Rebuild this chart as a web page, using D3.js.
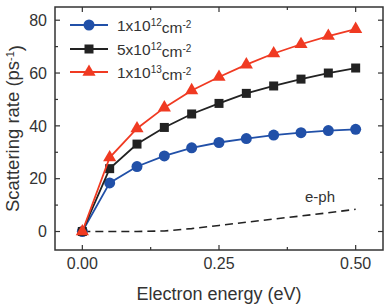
<!DOCTYPE html>
<html>
<head>
<meta charset="utf-8">
<script src="https://cdn.jsdelivr.net/npm/d3@7"></script>
<style>
  body { margin: 0; background: #fff; }
  text { font-family: Arial, "Liberation Sans", sans-serif; fill: #333; }
</style>
</head>
<body>
<svg class="chart" width="390" height="304"></svg>
<script>
// data
var energy = [0, 0.05, 0.10, 0.15, 0.20, 0.25, 0.30, 0.35, 0.40, 0.45, 0.50];
var rate1e12 = [0, 18.4, 24.6, 28.6, 31.7, 33.7, 35.2, 36.5, 37.4, 38.2, 38.7];
var rate5e12 = [0, 23.8, 33.1, 39.4, 44.5, 48.5, 52.3, 55.1, 57.7, 60.0, 61.9];
var rate1e13 = [0, 28.0, 39.0, 46.9, 53.4, 58.5, 63.2, 67.4, 70.9, 74.0, 76.6];
var ephEnergy = [0, 0.05, 0.10, 0.15, 0.20, 0.25, 0.30, 0.35, 0.40, 0.45, 0.50];
var ephRate = [0, 0, 0, 0.2, 1.1, 2.3, 3.5, 4.7, 5.9, 7.1, 8.4];
var xTicks = [0, 0.25, 0.5];
var yTicks = [0, 20, 40, 60, 80];

var svg = d3.select(".chart");

// plot box (window.top is reserved, so use p* names)
var pLeft = 55, pRight = 383, pTop = 7, pBottom = 250;

var x = d3.scaleLinear().domain([-0.05, 0.55]).range([pLeft, pRight]);
var y = d3.scaleLinear().domain([-7, 85]).range([pBottom, pTop]);

var series = [
  {name: "1x10", exp: "12", values: rate1e12, color: "#2150a8", shape: "circle"},
  {name: "5x10", exp: "12", values: rate5e12, color: "#222222", shape: "square"},
  {name: "1x10", exp: "13", values: rate1e13, color: "#f03a22", shape: "triangle"}
];

// frame
svg.append("rect")
  .attr("x", pLeft).attr("y", pTop)
  .attr("width", pRight - pLeft).attr("height", pBottom - pTop)
  .attr("fill", "none").attr("stroke", "#333").attr("stroke-width", 1.5);

// ticks, pointing inward on all four sides
var xMinor = [0.125, 0.375];
var yMinor = [10, 30, 50, 70];
function tickLines(vals, len) {
  vals.forEach(function(v) {
    svg.append("line").attr("x1", x(v)).attr("x2", x(v)).attr("y1", pBottom).attr("y2", pBottom - len)
      .attr("stroke", "#333").attr("stroke-width", 1.2);
    svg.append("line").attr("x1", x(v)).attr("x2", x(v)).attr("y1", pTop).attr("y2", pTop + len)
      .attr("stroke", "#333").attr("stroke-width", 1.2);
  });
}
function yTickLines(vals, len) {
  vals.forEach(function(v) {
    svg.append("line").attr("y1", y(v)).attr("y2", y(v)).attr("x1", pLeft).attr("x2", pLeft + len)
      .attr("stroke", "#333").attr("stroke-width", 1.2);
    svg.append("line").attr("y1", y(v)).attr("y2", y(v)).attr("x1", pRight).attr("x2", pRight - len)
      .attr("stroke", "#333").attr("stroke-width", 1.2);
  });
}
tickLines(xTicks, 5);
tickLines(xMinor, 3);
yTickLines(yTicks, 5);
yTickLines(yMinor, 3);

svg.selectAll(".xlab").data(xTicks).enter().append("text")
  .attr("x", function(d) { return x(d); })
  .attr("y", 269)
  .attr("text-anchor", "middle")
  .style("font-size", "16px")
  .text(function(d) { return d3.format(".2f")(d); });

svg.selectAll(".ylab").data(yTicks).enter().append("text")
  .attr("x", 47)
  .attr("y", function(d) { return y(d); })
  .attr("dy", "0.36em")
  .attr("text-anchor", "end")
  .style("font-size", "16px")
  .text(function(d) { return d; });

// axis titles
svg.append("text")
  .attr("x", (pLeft + pRight) / 2).attr("y", 300)
  .attr("text-anchor", "middle")
  .style("font-size", "18px")
  .text("Electron energy (eV)");

var yt = svg.append("text")
  .attr("transform", "translate(19," + ((pTop + pBottom) / 2) + ") rotate(-90)")
  .attr("text-anchor", "middle")
  .style("font-size", "18.5px");
yt.append("tspan").text("Scattering rate (ps");
yt.append("tspan").attr("dy", "-0.45em").style("font-size", "11px").text("-1");
yt.append("tspan").attr("dy", "0.45em").text(")");

// e-ph dashed curve
var line = d3.line()
  .x(function(d) { return x(d[0]); })
  .y(function(d) { return y(d[1]); });

svg.append("path")
  .attr("d", line(d3.zip(ephEnergy, ephRate)))
  .attr("fill", "none").attr("stroke", "#222").attr("stroke-width", 1.6)
  .attr("stroke-dasharray", "8,5");

svg.append("text")
  .attr("x", 320).attr("y", 202)
  .attr("text-anchor", "middle")
  .style("font-size", "15px")
  .text("e-ph");

function marker(g, shape, cx, cy, color) {
  if (shape == "circle") {
    g.append("circle").attr("cx", cx).attr("cy", cy).attr("r", 5.5).attr("fill", color);
  } else if (shape == "square") {
    g.append("rect").attr("x", cx - 4.5).attr("y", cy - 4.5).attr("width", 9).attr("height", 9).attr("fill", color);
  } else {
    g.append("path")
      .attr("d", d3.symbol().type(d3.symbolTriangle).size(75)())
      .attr("transform", "translate(" + cx + "," + cy + ")")
      .attr("fill", color);
  }
}

// series lines + markers
series.forEach(function(s) {
  var g = svg.append("g");
  g.append("path")
    .attr("d", line(d3.zip(energy, s.values)))
    .attr("fill", "none").attr("stroke", s.color).attr("stroke-width", 1.8);
  energy.forEach(function(e, i) {
    marker(g, s.shape, x(e), y(s.values[i]), s.color);
  });
});

// legend
var legY = [25, 49, 72];
series.forEach(function(s, i) {
  var g = svg.append("g");
  g.append("line").attr("x1", 70).attr("x2", 108).attr("y1", legY[i]).attr("y2", legY[i])
    .attr("stroke", s.color).attr("stroke-width", 1.8);
  marker(g, s.shape, 89, legY[i], s.color);
  var t = g.append("text").attr("x", 117).attr("y", legY[i]).attr("dy", "0.36em")
    .style("font-size", "15.5px");
  t.append("tspan").text(s.name);
  t.append("tspan").attr("dy", "-0.5em").style("font-size", "10px").text(s.exp);
  t.append("tspan").attr("dy", "0.5em").text("cm");
  t.append("tspan").attr("dy", "-0.5em").style("font-size", "10px").text("-2");
});
</script>
</body>
</html>
